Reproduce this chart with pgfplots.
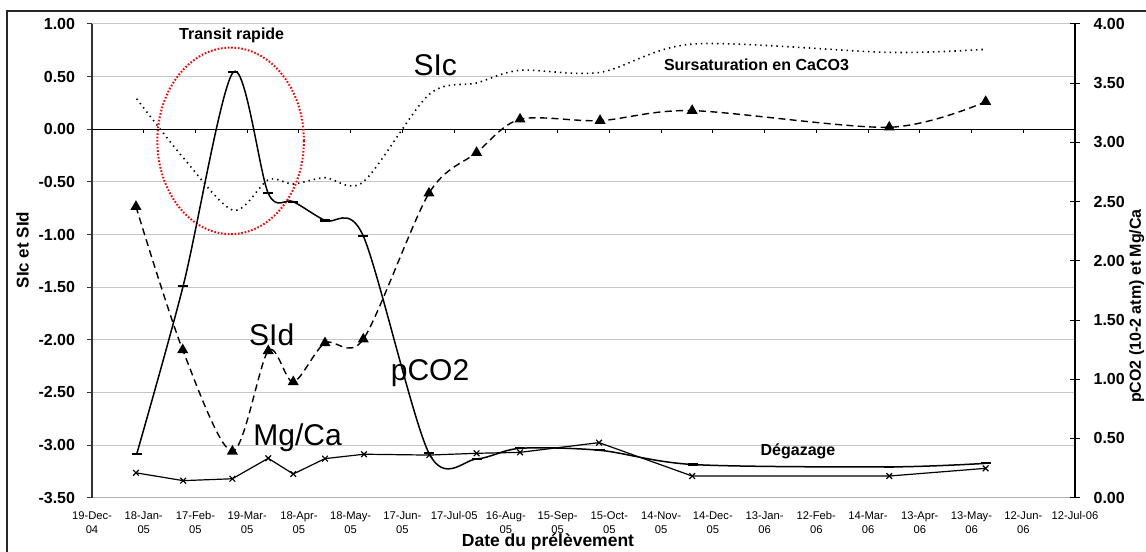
\documentclass[border=0pt]{standalone}
\usepackage{fontspec}
\setmainfont{Liberation Sans}
\usepackage{pgfplots}
\pgfplotsset{compat=1.18}
\begin{document}
\begin{tikzpicture}
\path[use as bounding box] (-46bp,-27.15bp) rectangle (527bp,248.85bp);
\begin{axis}[
  at={(0,0)}, anchor=south west, scale only axis,
  width=491.5bp, height=236.85bp,
  xmin=0, xmax=570, ymin=-3.5, ymax=1,
  axis x line*=bottom, axis y line*=left,
  x axis line style={draw=gray!60, -},
  y axis line style={draw=black!80, line width=0.6bp, -},
  xtick={0,30,...,570},
  xticklabels={{19-Dec-\\04},{18-Jan-\\05},{17-Feb-\\05},{19-Mar-\\05},{18-Apr-\\05},{18-May-\\05},{17-Jun-\\05},{17-Jul-05},{16-Aug-\\05},{15-Sep-\\05},{15-Oct-\\05},{14-Nov-\\05},{14-Dec-\\05},{13-Jan-\\06},{12-Feb-\\06},{14-Mar-\\06},{13-Apr-\\06},{13-May-\\06},{12-Jun-\\06},{12-Jul-06}},
  xticklabel style={align=center, font=\fontsize{5.6bp}{6.8bp}\selectfont, inner sep=0pt, anchor=north, yshift=-4.5bp},
  xtick style={draw=none},
  ytick={-3.5,-3,...,1},
  yticklabel={\pgfmathprintnumber[fixed,fixed zerofill,precision=2]{\tick}},
  /pgf/number format/assume math mode=true,
  yticklabel style={font=\fontsize{8bp}{9bp}\selectfont\bfseries, inner sep=0pt, anchor=east, xshift=-6bp},
  ytick style={draw=black!80, line width=0.5bp},
  tick align=outside, major tick length=2.3bp,
  ymajorgrids, grid style={draw=gray!45, line width=0.5bp},
  clip=false,
]
% outer frame (left and top)
\fill[black!85] ([xshift=-43.1bp,yshift=-27.15bp]rel axis cs:0,0) rectangle ([xshift=-41.9bp,yshift=7.15bp]rel axis cs:0,1);
\fill[black!85] ([xshift=-43.1bp,yshift=5.95bp]rel axis cs:0,1) rectangle ([xshift=35.5bp,yshift=7.15bp]rel axis cs:1,1);
% zero line with ticks
\draw[black, line width=0.6bp] (axis cs:0,0) -- (axis cs:570,0);
\pgfplotsinvokeforeach{30,60,...,570}{\draw[black, line width=0.5bp] (axis cs:#1,0) -- ([yshift=-2bp]axis cs:#1,0);}
% SIc (dotted)
\addplot[black, line width=0.8bp, dash pattern=on 0.7bp off 2bp, smooth, no markers] coordinates {
(25.9,0.29) (52.9,-0.27) (81.9,-0.77) (102.2,-0.48) (116.7,-0.52) (135.1,-0.46) (157.3,-0.50)
(195.4,0.33) (223,0.44) (248.2,0.56) (294.6,0.54) (348.7,0.81) (462.3,0.73) (518.2,0.76)};
% SId (dashed, triangles)
\addplot[black, line width=0.7bp, dash pattern=on 3.5bp off 2.2bp, smooth, mark=triangle*, mark size=2.5bp, mark options={solid}] coordinates {
(25.5,-0.735) (52.6,-2.096) (81.4,-3.06) (102.2,-2.105) (116.7,-2.40) (135.1,-2.03) (157.3,-1.995)
(195.4,-0.608) (223,-0.222) (248.2,0.095) (294.6,0.082) (348,0.177) (462.3,0.019) (518.2,0.262)};
% red ellipse
\draw[red, line width=1bp, dash pattern=on 0.8bp off 0.9bp] (axis cs:80.4,-0.11) ellipse [x radius=42.5, y radius=0.886];
% annotations
\node[font=\fontsize{8bp}{9bp}\selectfont\bfseries] at (axis cs:81,0.896) {Transit rapide};
\node[font=\fontsize{15bp}{17bp}\selectfont] at (axis cs:199,0.61) {SIc};
\node[font=\fontsize{8bp}{9bp}\selectfont\bfseries] at (axis cs:385.3,0.617) {Sursaturation en CaCO3};
\node[font=\fontsize{15bp}{17bp}\selectfont] at (axis cs:104.2,-1.953) {SId};
\node[font=\fontsize{15bp}{17bp}\selectfont] at (axis cs:196,-2.317) {pCO2};
\node[font=\fontsize{15bp}{17bp}\selectfont] at (axis cs:119.2,-2.934) {Mg/Ca};
\node[font=\fontsize{8bp}{9bp}\selectfont\bfseries] at (axis cs:409.4,-3.06) {Dégazage};
\end{axis}
\begin{axis}[
  at={(0,0)}, anchor=south west, scale only axis,
  width=491.5bp, height=236.85bp,
  xmin=0, xmax=570, ymin=0, ymax=4,
  axis x line=none, axis y line*=right,
  y axis line style={draw=black, line width=0.7bp, -},
  ytick={0,0.5,...,4},
  yticklabel={\pgfmathprintnumber[fixed,fixed zerofill,precision=2]{\tick}},
  /pgf/number format/assume math mode=true,
  yticklabel style={font=\fontsize{8bp}{9bp}\selectfont\bfseries, inner sep=0pt, anchor=west, xshift=6.6bp},
  ytick style={draw=black, line width=0.5bp},
  tick align=center, major tick length=5bp,
  clip=false,
]
% pCO2
\addplot[black, line width=0.75bp, smooth, mark=-, mark size=2.5bp, mark options={line width=1.1bp}] coordinates {
(25.9,0.367) (52.9,1.79) (81.9,3.593) (102.2,2.57) (116.7,2.50) (135.1,2.34) (157.3,2.21)
(195.4,0.375) (223,0.327) (248.2,0.417) (294.6,0.40) (348.7,0.28) (462.3,0.26) (518.2,0.29)};
% Mg/Ca
\addplot[black, line width=0.6bp, mark=x, mark size=2bp] coordinates {
(25.5,0.21) (52.9,0.144) (81.4,0.16) (102.2,0.333) (116.7,0.20) (135.1,0.33) (157.7,0.367)
(195.6,0.36) (223,0.375) (248.2,0.383) (294,0.465) (348,0.183) (462.3,0.183) (518.2,0.248)};
\end{axis}
\node[rotate=90, font=\fontsize{8.5bp}{10bp}\selectfont\bfseries] at (-34.75bp,123.85bp) {SIc et SId};
\node[rotate=90, font=\fontsize{8bp}{10bp}\selectfont\bfseries] at (522.35bp,95.85bp) {pCO2 (10-2 atm) et Mg/Ca};
\node[anchor=base, font=\fontsize{8.75bp}{10bp}\selectfont\bfseries] at (228bp,-24.5bp) {Date du prélèvement};
\end{tikzpicture}
\end{document}
